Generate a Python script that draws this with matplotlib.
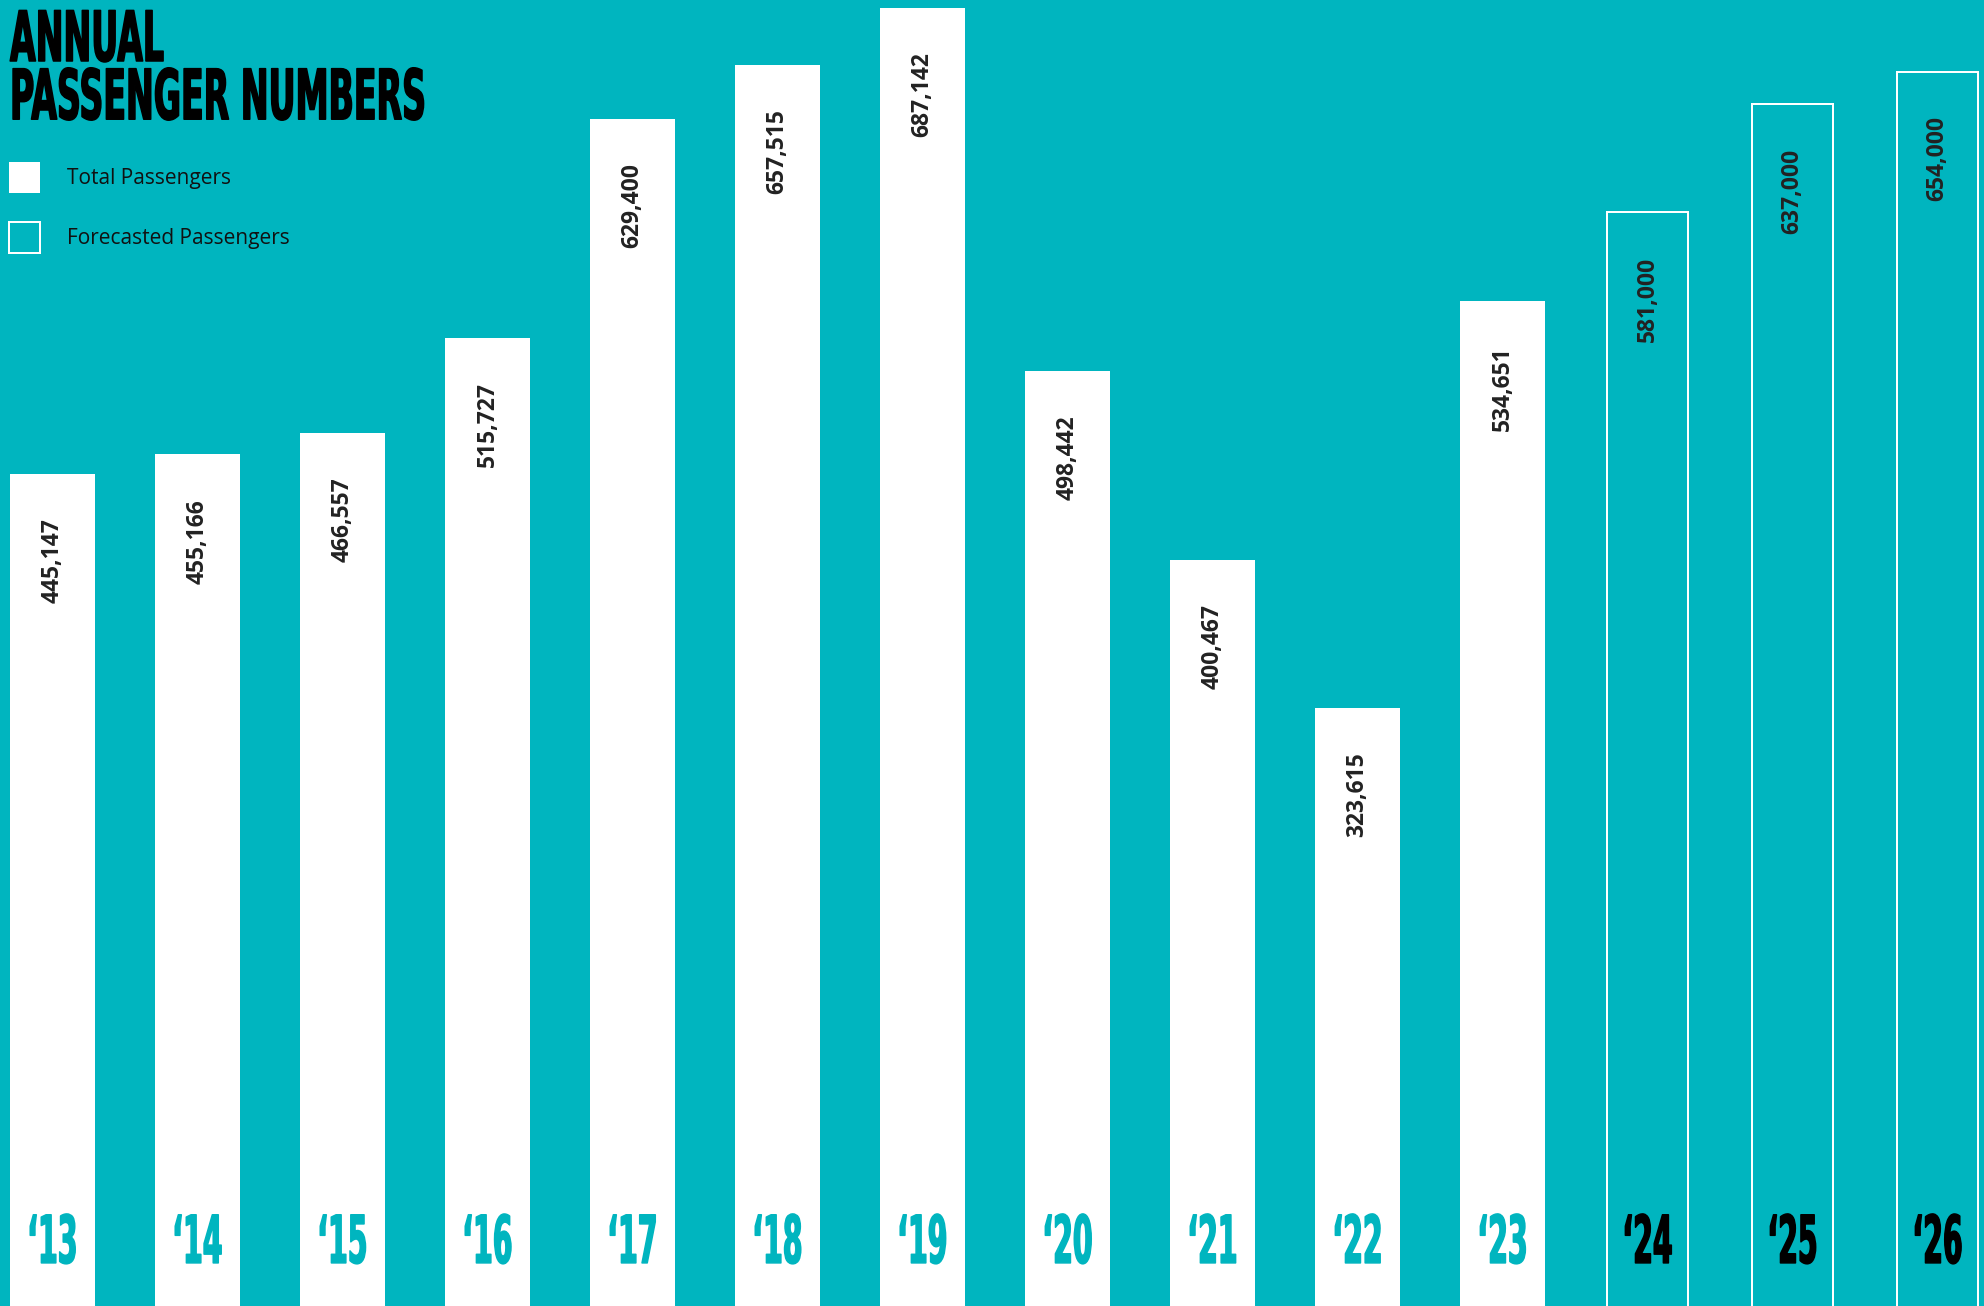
import numpy as np
import matplotlib
matplotlib.use('Agg')
import matplotlib.pyplot as plt
from matplotlib.patches import Patch
from matplotlib.patheffects import AbstractPathEffect
from matplotlib.transforms import Affine2D

# Data
years = ['13', '14', '15', '16', '17', '18', '19', '20', '21', '22', '23', '24', '25', '26']
passengers = [445147, 455166, 466557, 515727, 629400, 657515, 687142,
              498442, 400467, 323615, 534651]
forecast = [581000, 637000, 654000]

TEAL = '#00b5bf'
plt.rcParams['font.family'] = ['Open Sans', 'DejaVu Sans']


class Tall(AbstractPathEffect):
    """Stretches glyphs upward from the baseline (condensed poster look)."""

    def __init__(self, sy, lw=0.0):
        super().__init__()
        self.sy, self.lw = sy, lw

    def draw_path(self, renderer, gc, tpath, affine, rgbFace=None):
        aff = Affine2D().scale(1, self.sy) + affine
        gc0 = renderer.new_gc()
        gc0.copy_properties(gc)
        if self.lw:
            gc0.set_linewidth(self.lw)
            gc0.set_foreground(rgbFace)
            gc0.set_joinstyle('round')
        renderer.draw_path(gc0, tpath, aff, rgbFace)
        gc0.restore()


fig = plt.figure(figsize=(19.84, 13.06), dpi=100, facecolor=TEAL)
ax = fig.add_axes([0, 0, 1, 1])
ax.set_facecolor(TEAL)

x = np.arange(len(years))
n = len(passengers)
ax.bar(x[:n], passengers, width=0.586, color='white')
ax.bar(x[n:], forecast, width=0.559, facecolor=TEAL, edgecolor='white', linewidth=1.44)

# value labels, rotated, just under the bar top
for i, v in enumerate(passengers + forecast):
    ax.annotate(f'{v:,}', (i, v), xytext=(0, -32), textcoords='offset points',
                rotation=90, ha='center', va='top', fontsize=16.5, fontweight='bold',
                color='#222222')

# year labels at the bottom
for i, yr in enumerate(years):
    ax.text(i, 0.033, '\u2018' + yr, transform=ax.get_xaxis_transform(),
            ha='center', va='baseline', fontsize=20.4, fontweight='bold',
            family='DejaVu Sans', color=TEAL if i < n else 'black',
            path_effects=[Tall(2.33, 1.1)])

ax.set_xlim(-0.362, 13.32)
ax.set_ylim(12983, 691180)
ax.axis('off')

# title
fig.text(10 / 1984, 1 - 35 / 1306, 'ANNUAL\nPASSENGER NUMBERS', ha='left', va='top',
         fontsize=23.9, fontweight='bold', family='DejaVu Sans', color='black',
         linespacing=1.97, path_effects=[Tall(2.09, 1.1)])

# legend
handles = [Patch(facecolor='white', edgecolor='none', label='Total Passengers'),
           Patch(facecolor=TEAL, edgecolor='white', linewidth=1.44,
                 label='Forecasted Passengers')]
ax.legend(handles=handles, loc='upper left', bbox_to_anchor=(9 / 1984, 1 - 162 / 1306),
          bbox_transform=fig.transFigure, frameon=False, fontsize=15,
          labelcolor='#111111', handlelength=1.49, handleheight=1.915,
          handletextpad=1.3, labelspacing=1.39, borderpad=0, borderaxespad=0)

fig.savefig('out.png', dpi=100, facecolor=TEAL)
